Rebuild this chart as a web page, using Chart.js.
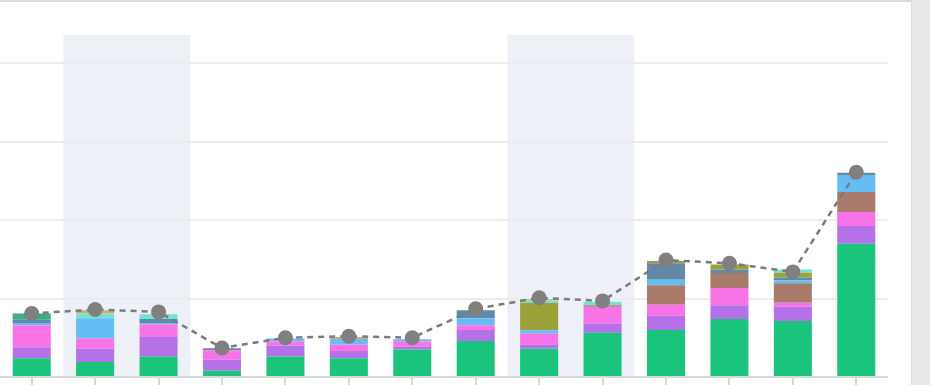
<!DOCTYPE html>
<html>
<head>
<meta charset="utf-8">
<script src="https://cdn.jsdelivr.net/npm/chart.js@4/dist/chart.umd.min.js"></script>
<style>
  html, body { margin: 0; padding: 0; background: #e7e8e8; overflow: hidden; }
  .card { position: absolute; left: 0; top: 0; width: 912px; height: 385px; background: #fff;
          border-top: 2px solid #dcdcdc; border-right: 1px solid #dddede; box-sizing: border-box; }
  .wrap { position: absolute; left: 0; top: -2px; width: 888px; height: 387px; }
</style>
</head>
<body>
<div class="card"><div class="wrap"><canvas id="chart"></canvas></div></div>
<script>
// categories (labels are outside the visible crop)
const categories = ['1', '2', '3', '4', '5', '6', '7', '8', '9', '10', '11', '12', '13', '14'];

// stacked series, bottom to top
const greenVals  = [24, 19, 26, 8, 26, 24, 35, 46, 36, 56.5, 60, 74, 71.5, 170];
const purpleVals = [14, 17, 25, 14, 14, 9, 4, 14, 5.5, 11.5, 18, 17.5, 18, 22.5];
const pinkVals   = [28, 13, 16, 12, 5.5, 8, 6.5, 6, 14, 21.5, 14, 22, 5, 18];
const brownVals  = [0, 0, 0, 0, 0, 0, 0, 0, 0, 2, 25, 19, 25, 25.5];
const blueVals   = [3, 26, 2, 0, 3.5, 7.5, 2.5, 9, 4, 0, 7, 0, 4, 21.5];
const slateVals  = [4, 0, 5, 2.5, 0, 0, 0, 10, 0, 0, 21, 4.5, 3.5, 3];
const oliveVals  = [0, 0, 0, 0, 0, 0, 0, 0, 35, 0, 3, 6.5, 6, 0];
const cyanVals   = [0, 6, 6, 0, 0, 0, 0, 0, 3.5, 4.5, 0, 0, 4, 0];
const tealVals   = [8, 0, 0, 0, 0, 0, 0, 0, 0, 0, 0, 0, 0, 0];
const tanVals    = [0, 4, 0, 0, 0, 2.5, 0, 0, 1, 0, 0, 0, 0, 0];

// totals line
const totalVals = [81, 86, 83, 37, 50, 52, 50, 87, 101, 97, 149, 145, 134, 261];

// shaded category indices
const shadedCats = [[1, 2], [8, 9]];

const gridSteps = [100, 200, 300, 400];

function bar(data, color) {
  return { type: 'bar', data, backgroundColor: color, borderWidth: 0, stack: 's', order: 2,
           barPercentage: 0.6, categoryPercentage: 1 };
}

const shadePlugin = {
  id: 'shade',
  beforeDraw(chart) {
    const { ctx, chartArea, scales: { x } } = chart;
    const half = (x.getPixelForValue(1) - x.getPixelForValue(0)) / 2;
    ctx.save();
    ctx.fillStyle = '#edf1f7';
    shadedCats.forEach(([a, b]) => {
      const l = x.getPixelForValue(a) - half;
      const r = x.getPixelForValue(b) + half;
      ctx.fillRect(l, chartArea.top, r - l, chartArea.bottom - chartArea.top);
    });
    ctx.restore();
  }
};

new Chart(document.getElementById('chart'), {
  data: {
    labels: categories,
    datasets: [
      { type: 'line', data: totalVals, borderColor: '#7b7b7b', borderWidth: 2.5, borderDash: [6, 5],
        pointRadius: 7.5, pointBackgroundColor: '#808080', pointBorderWidth: 0, tension: 0, order: 0 },
      bar(greenVals, '#1bc47d'),
      bar(purpleVals, '#b572e8'),
      bar(pinkVals, '#f773e6'),
      bar(brownVals, '#a97b6a'),
      bar(blueVals, '#64bef4'),
      bar(slateVals, '#6289a6'),
      bar(oliveVals, '#9ba23a'),
      bar(cyanVals, '#74e2d6'),
      bar(tealVals, '#3aae7c'),
      bar(tanVals, '#d8aa6c')
    ]
  },
  options: {
    responsive: true,
    maintainAspectRatio: false,
    animation: false,
    layout: { padding: { top: 35, left: 0, right: 0, bottom: 0 }, autoPadding: false },
    plugins: { legend: { display: false }, tooltip: { enabled: false } },
    scales: {
      x: {
        stacked: true,
        offset: true,
        grid: { offset: false, drawOnChartArea: false, drawTicks: true, tickLength: 9, color: '#d6d6d6', lineWidth: 2 },
        border: { display: true, color: '#d8d8d8', width: 2 },
        ticks: { display: false },
        afterFit: (axis) => { axis.height = 10; }
      },
      y: {
        stacked: true,
        min: 0,
        max: 436,
        grid: {
          drawTicks: false,
          lineWidth: 2,
          color: (c) => (c.tick && gridSteps.includes(c.tick.value)) ? '#ececec' : 'rgba(0,0,0,0)'
        },
        border: { display: false },
        ticks: { display: false, stepSize: 100 },
        afterFit: (axis) => { axis.width = 0; }
      }
    }
  },
  plugins: [shadePlugin]
});
</script>
</body>
</html>
